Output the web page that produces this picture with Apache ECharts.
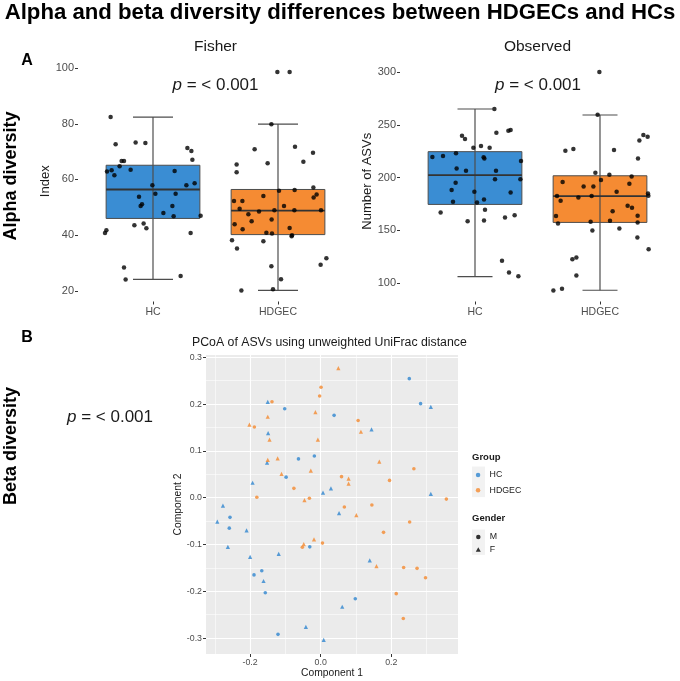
<!DOCTYPE html>
<html><head><meta charset="utf-8">
<script src="https://cdn.jsdelivr.net/npm/echarts@6/dist/echarts.min.js"></script>
<style>html,body{margin:0;padding:0;background:#fff}#c{width:680px;height:681px}</style>
</head><body><div id="c"></div>
<script>
// ---------- data ----------
const groups = ['HC', 'HDGEC'];
// [lower whisker, Q1, median, Q3, upper whisker]
const fisherStats = [[24.1, 46.0, 56.4, 65.1, 82.4], [20.2, 40.2, 48.8, 56.4, 79.9]];
const observedStats = [[106, 174.5, 202.4, 224.6, 265.1], [93, 157.4, 182.4, 201.7, 259.4]];
const fisherTicks = [20, 40, 60, 80, 100];
const observedTicks = [100, 150, 200, 250, 300];
// jittered points [x position (1 = HC, 2 = HDGEC), value]
const fisherHC = [[0.661,82.4],[0.701,72.6],[0.749,66.6],[0.768,66.6],[0.733,64.7],[0.669,63.3],[0.632,62.9],[0.691,61.5],[0.821,63.5],[0.861,73.3],[0.939,73.1],[1.173,63.05],[0.995,57.9],[1.019,54.9],[0.888,53.8],[0.912,51.1],[0.901,50.5],[1.181,54.9],[1.083,48.0],[1.155,50.5],[1.165,46.8],[1.275,71.3],[1.307,70.2],[1.315,67.1],[1.267,57.9],[1.333,58.6],[1.381,47.0],[0.851,43.6],[0.925,44.2],[0.947,42.5],[0.627,41.8],[0.616,40.8],[1.301,40.8],[0.768,28.4],[0.781,24.1],[1.221,25.3]];
const fisherHDGEC = [[1.995,98.6],[2.093,98.6],[1.947,79.8],[1.813,70.8],[2.136,71.7],[1.917,65.8],[1.669,65.4],[1.669,62.6],[2.203,66.4],[2.280,69.6],[1.648,52.3],[1.715,52.3],[1.693,49.5],[1.763,47.5],[1.789,45.0],[1.848,48.5],[1.883,54.1],[2.008,55.9],[2.048,50.5],[1.971,48.9],[1.949,45.6],[2.131,48.9],[2.133,56.2],[2.283,57.1],[2.309,54.6],[2.285,53.5],[2.344,48.9],[1.653,43.9],[1.717,42.1],[2.093,42.6],[2.112,40.0],[2.109,39.6],[1.907,40.9],[1.952,40.6],[1.883,37.8],[1.632,38.2],[1.672,35.2],[2.341,29.4],[2.387,31.7],[1.947,28.8],[2.024,24.2],[1.707,20.1],[1.960,20.6]];
const observedHC = [[1.155,265.1],[0.896,239.8],[0.920,236.7],[1.171,242.6],[1.267,244.5],[1.285,245.2],[0.987,228.4],[1.048,230.0],[1.117,228.4],[0.659,219.5],[0.744,220.4],[0.848,223.0],[1.069,219.2],[1.075,218.2],[0.853,208.7],[0.928,206.5],[1.168,206.5],[1.160,198.3],[0.845,195.1],[1.363,198.3],[0.813,188.1],[0.995,186.5],[0.824,177.0],[1.016,176.4],[1.285,185.9],[1.368,215.7],[1.072,179.2],[1.080,169.4],[0.725,166.9],[0.941,158.6],[1.072,159.3],[1.240,162.1],[1.317,164.3],[1.216,120.9],[1.272,109.8],[1.347,106.3]];
const observedHDGEC = [[1.995,300.3],[1.981,259.7],[1.723,225.5],[1.787,227.1],[2.112,226.1],[2.347,240.4],[2.381,238.8],[2.315,235.3],[2.304,218.2],[1.701,195.7],[1.869,191.6],[1.947,191.6],[1.963,204.6],[2.008,197.6],[2.075,202.7],[2.253,201.1],[2.235,194.1],[1.656,182.4],[1.685,178.0],[1.827,181.1],[1.933,182.4],[2.133,186.5],[2.384,184.9],[2.387,182.7],[2.221,173.2],[2.256,171.3],[2.101,168.1],[1.648,163.4],[1.664,156.4],[1.925,158.0],[1.939,149.8],[2.080,158.9],[2.155,151.7],[2.301,163.7],[2.301,157.4],[2.299,143.1],[2.389,132.0],[1.779,122.5],[1.811,124.1],[1.811,107.0],[1.627,92.7],[1.696,94.3]];
// PCoA [Component 1, Component 2]
const pcoaHC_M = [[-0.102,0.190],[0.038,0.176],[-0.018,0.089],[-0.063,0.083],[-0.098,0.044],[0.251,0.2545],[0.283,0.201],[-0.257,-0.042],[-0.259,-0.065],[-0.031,-0.105],[-0.167,-0.156],[-0.189,-0.165],[-0.157,-0.203],[-0.121,-0.292],[0.098,-0.216]];
const pcoaHC_F = [[-0.150,0.205],[-0.149,0.138],[-0.152,0.075],[-0.193,0.032],[0.029,0.020],[0.0065,0.011],[0.312,0.194],[0.144,0.146],[0.312,0.008],[-0.277,-0.017],[0.052,-0.033],[-0.293,-0.051],[-0.210,-0.070],[-0.263,-0.105],[-0.119,-0.120],[-0.200,-0.1265],[-0.162,-0.178],[0.061,-0.233],[-0.042,-0.276],[0.0085,-0.304],[0.139,-0.134]];
const pcoaHDGEC_M = [[0.001,0.236],[-0.003,0.2175],[-0.138,0.205],[-0.188,0.151],[0.059,0.045],[-0.076,0.020],[-0.181,0.001],[-0.032,-0.001],[0.067,-0.020],[0.005,-0.097],[-0.052,-0.106],[0.106,0.165],[0.264,0.062],[0.195,0.037],[0.356,-0.003],[0.145,-0.0155],[0.252,-0.052],[0.178,-0.074],[0.235,-0.149],[0.273,-0.151],[0.297,-0.171],[0.214,-0.205],[0.234,-0.258]];
const pcoaHDGEC_F = [[0.050,0.277],[-0.150,0.173],[-0.015,0.183],[-0.202,0.156],[-0.145,0.124],[-0.008,0.124],[-0.122,0.084],[-0.150,0.081],[-0.111,0.051],[-0.028,0.058],[0.114,0.141],[0.166,0.077],[0.079,0.041],[0.079,0.030],[-0.046,-0.005],[-0.019,-0.089],[-0.048,-0.099],[0.101,-0.037],[0.158,-0.146]];
const pcoaXTicks = [-0.2, 0, 0.2];
const pcoaXMinor = [-0.3, -0.1, 0.1, 0.3];
const pcoaYTicks = [-0.3, -0.2, -0.1, 0, 0.1, 0.2, 0.3];
const pcoaYMinor = [-0.25, -0.15, -0.05, 0.05, 0.15, 0.25];

// ---------- styling ----------
const FONT = '"Liberation Sans", Arial, sans-serif';
const BLUE = '#3a8dd3', ORANGE = '#f58b33';
const PBLUE = '#2f86cf', PORANGE = '#f4892f';
const boxColors = [BLUE, ORANGE];

function boxRenderer(capHalf) {
  return function (params, api) {
    const x = api.value(0), lo = api.value(1), q1 = api.value(2), md = api.value(3), q3 = api.value(4), hi = api.value(5);
    const tl = api.coord([x - 0.375, q3]), br = api.coord([x + 0.375, q1]);
    const top = api.coord([x, hi]), bot = api.coord([x, lo]);
    const m1 = api.coord([x - 0.375, md]), m2 = api.coord([x + 0.375, md]);
    const c1 = api.coord([x - capHalf, hi]), c2 = api.coord([x + capHalf, hi]);
    const d1 = api.coord([x - capHalf, lo]), d2 = api.coord([x + capHalf, lo]);
    const stroke = '#4d4d4d';
    return { type: 'group', children: [
      { type: 'rect', shape: { x: tl[0], y: tl[1], width: br[0] - tl[0], height: br[1] - tl[1] }, style: { fill: boxColors[params.dataIndex], stroke: stroke, lineWidth: 1 } },
      { type: 'line', shape: { x1: top[0], y1: top[1], x2: bot[0], y2: bot[1] }, style: { stroke: stroke, lineWidth: 1.2 } },
      { type: 'line', shape: { x1: c1[0], y1: c1[1], x2: c2[0], y2: c2[1] }, style: { stroke: stroke, lineWidth: 1.2 } },
      { type: 'line', shape: { x1: d1[0], y1: d1[1], x2: d2[0], y2: d2[1] }, style: { stroke: stroke, lineWidth: 1.2 } },
      { type: 'line', shape: { x1: m1[0], y1: m1[1], x2: m2[0], y2: m2[1] }, style: { stroke: '#333', lineWidth: 1.8 } }
    ] };
  };
}

function catXAxis(gridIndex) {
  return {
    type: 'value', gridIndex: gridIndex, min: 0.4, max: 2.6,
    axisLine: { show: false, onZero: false }, splitLine: { show: false },
    axisTick: { show: true, length: 3, lineStyle: { color: '#333' }, customValues: [1, 2] },
    axisLabel: { customValues: [1, 2], formatter: v => groups[Math.round(v) - 1], color: '#4d4d4d', fontSize: 10.5, fontFamily: FONT, margin: 5 }
  };
}
function valYAxis(gridIndex, min, max, ticks, name, gap) {
  return {
    type: 'value', gridIndex: gridIndex, min: min, max: max,
    name: name, nameLocation: 'middle', nameGap: gap, nameTextStyle: { fontSize: 13, color: '#1a1a1a', fontFamily: FONT },
    axisLine: { show: false, onZero: false }, splitLine: { show: false },
    axisTick: { show: true, length: 3, lineStyle: { color: '#333' }, customValues: ticks },
    axisLabel: { customValues: ticks, color: '#4d4d4d', fontSize: 11, fontFamily: FONT, margin: 4 }
  };
}

// white panel grid lines for the PCoA panel, placed through the axes as mark lines
const gridLineData = []
  .concat(pcoaXTicks.map(v => ({ xAxis: v, lineStyle: { width: 1.1 } })))
  .concat(pcoaXMinor.map(v => ({ xAxis: v, lineStyle: { width: 0.55 } })))
  .concat(pcoaYTicks.map(v => ({ yAxis: v, lineStyle: { width: 1.1 } })))
  .concat(pcoaYMinor.map(v => ({ yAxis: v, lineStyle: { width: 0.55 } })));

const pText = (x, y) => ({ type: 'text', x: x, y: y, style: { text: '{i|p} = < 0.001', font: '17px ' + FONT, fill: '#1a1a1a', align: 'center', verticalAlign: 'middle', rich: { i: { fontStyle: 'italic', fontSize: 17, fontFamily: FONT, fill: '#1a1a1a' } } } });

const option = {
  animation: false,
  backgroundColor: '#ffffff',
  grid: [
    { left: 78, top: 61, width: 275, height: 240.5, containLabel: false },
    { left: 400, top: 61, width: 275, height: 240.5, containLabel: false },
    { left: 206, top: 355, width: 252, height: 299, containLabel: false, show: true, backgroundColor: '#ebebeb', borderWidth: 0 }
  ],
  xAxis: [
    catXAxis(0),
    catXAxis(1),
    { type: 'value', gridIndex: 2, position: 'bottom', min: -0.325, max: 0.389,
      name: 'Component 1', nameLocation: 'middle', nameGap: 14, nameTextStyle: { fontSize: 10.3, color: '#1a1a1a', fontFamily: FONT },
      axisLine: { show: false, onZero: false },
      axisTick: { show: true, length: 3, lineStyle: { color: '#333' }, customValues: pcoaXTicks },
      axisLabel: { customValues: pcoaXTicks, formatter: v => v.toFixed(1), color: '#4d4d4d', fontSize: 8.8, fontFamily: FONT, margin: 4 },
      splitLine: { show: false } }
  ],
  yAxis: [
    valYAxis(0, 16.18, 102.53, fisherTicks, 'Index', 24),
    valYAxis(1, 82.3, 310.7, observedTicks, 'Number of ASVs', 25),
    { type: 'value', gridIndex: 2, position: 'left', min: -0.334, max: 0.305,
      name: 'Component 2', nameLocation: 'middle', nameGap: 20, nameTextStyle: { fontSize: 10.3, color: '#1a1a1a', fontFamily: FONT },
      axisLine: { show: false, onZero: false },
      axisTick: { show: true, length: 3, lineStyle: { color: '#333' }, customValues: pcoaYTicks },
      axisLabel: { customValues: pcoaYTicks, formatter: v => v.toFixed(1), color: '#4d4d4d', fontSize: 8.8, fontFamily: FONT, margin: 4 },
      splitLine: { show: false } }
  ],
  legend: [
    { orient: 'vertical', left: 475.8, top: 469.5, padding: 0, itemWidth: 5, itemHeight: 4.5, itemGap: 4.3, selectedMode: false,
      data: [{ name: 'HC', icon: 'circle' }, { name: 'HDGEC', icon: 'circle' }],
      textStyle: { fontSize: 8.8, color: '#1a1a1a', fontFamily: FONT, lineHeight: 11, padding: [0, 0, 0, 4] } },
    { orient: 'vertical', left: 475.8, top: 531.5, padding: 0, itemWidth: 5, itemHeight: 4.5, itemGap: 1.6, selectedMode: false,
      data: [{ name: 'M', icon: 'circle' }, { name: 'F', icon: 'triangle' }],
      textStyle: { fontSize: 8.8, color: '#1a1a1a', fontFamily: FONT, lineHeight: 11, padding: [0, 0, 0, 4] } }
  ],
  graphic: [
    { type: 'rect', left: 472, top: 466.5, shape: { width: 13, height: 30.6 }, style: { fill: '#f2f2f2' }, z: -1 },
    { type: 'rect', left: 472, top: 529.5, shape: { width: 13, height: 25.4 }, style: { fill: '#f2f2f2' }, z: -1 },
    { type: 'text', x: 340, y: 13, style: { text: 'Alpha and beta diversity differences between HDGECs and HCs', font: 'bold 22.2px ' + FONT, fill: '#000', align: 'center', verticalAlign: 'middle' } },
    { type: 'text', x: 27, y: 61, style: { text: 'A', font: 'bold 16px ' + FONT, fill: '#000', align: 'center', verticalAlign: 'middle' } },
    { type: 'text', x: 27, y: 338, style: { text: 'B', font: 'bold 16px ' + FONT, fill: '#000', align: 'center', verticalAlign: 'middle' } },
    { type: 'text', x: 11, y: 176, rotation: Math.PI / 2, style: { text: 'Alpha diversity', font: 'bold 18px ' + FONT, fill: '#000', align: 'center', verticalAlign: 'middle' } },
    { type: 'text', x: 11, y: 446, rotation: Math.PI / 2, style: { text: 'Beta diversity', font: 'bold 18px ' + FONT, fill: '#000', align: 'center', verticalAlign: 'middle' } },
    { type: 'text', x: 215.5, y: 47, style: { text: 'Fisher', font: '15.5px ' + FONT, fill: '#1a1a1a', align: 'center', verticalAlign: 'middle' } },
    { type: 'text', x: 537.5, y: 47, style: { text: 'Observed', font: '15.5px ' + FONT, fill: '#1a1a1a', align: 'center', verticalAlign: 'middle' } },
    pText(215.5, 85), pText(538, 85), pText(110, 417),
    { type: 'text', x: 192, y: 343, style: { text: 'PCoA of ASVs using unweighted UniFrac distance', font: '12.3px ' + FONT, fill: '#1a1a1a', align: 'left', verticalAlign: 'middle' } },
    { type: 'text', x: 472, y: 457, style: { text: 'Group', font: 'bold 9.5px ' + FONT, fill: '#1a1a1a', align: 'left', verticalAlign: 'middle' } },
    { type: 'text', x: 472, y: 518, style: { text: 'Gender', font: 'bold 9.5px ' + FONT, fill: '#1a1a1a', align: 'left', verticalAlign: 'middle' } }
  ],
  series: [
    { type: 'custom', name: 'Fisher box', xAxisIndex: 0, yAxisIndex: 0, renderItem: boxRenderer(0.16), encode: { x: 0, y: [1, 2, 3, 4, 5] },
      data: groups.map((g, i) => [i + 1].concat(fisherStats[i])), z: 2 },
    { type: 'scatter', name: 'Fisher HC', xAxisIndex: 0, yAxisIndex: 0, data: fisherHC, symbolSize: 4.5, itemStyle: { color: '#000' }, z: 5 },
    { type: 'scatter', name: 'Fisher HDGEC', xAxisIndex: 0, yAxisIndex: 0, data: fisherHDGEC, symbolSize: 4.5, itemStyle: { color: '#000' }, z: 5 },
    { type: 'custom', name: 'Observed box', xAxisIndex: 1, yAxisIndex: 1, renderItem: boxRenderer(0.14), encode: { x: 0, y: [1, 2, 3, 4, 5] },
      data: groups.map((g, i) => [i + 1].concat(observedStats[i])), z: 2 },
    { type: 'scatter', name: 'Observed HC', xAxisIndex: 1, yAxisIndex: 1, data: observedHC, symbolSize: 4.5, itemStyle: { color: '#000' }, z: 5 },
    { type: 'scatter', name: 'Observed HDGEC', xAxisIndex: 1, yAxisIndex: 1, data: observedHDGEC, symbolSize: 4.5, itemStyle: { color: '#000' }, z: 5 },
    { type: 'scatter', name: 'panel grid', xAxisIndex: 2, yAxisIndex: 2, data: [], z: 1, silent: true,
      markLine: { z: 1, silent: true, symbol: 'none', animation: false, label: { show: false }, emphasis: { disabled: true },
        lineStyle: { color: '#ffffff', type: 'solid', width: 1.1 }, data: gridLineData } },
    { type: 'scatter', name: 'HC', xAxisIndex: 2, yAxisIndex: 2, data: pcoaHC_M, symbol: 'circle', symbolSize: 3.6, itemStyle: { color: PBLUE }, z: 6 },
    { type: 'scatter', name: 'HC', xAxisIndex: 2, yAxisIndex: 2, data: pcoaHC_F, symbol: 'triangle', symbolSize: 4.2, itemStyle: { color: PBLUE }, z: 6 },
    { type: 'scatter', name: 'HDGEC', xAxisIndex: 2, yAxisIndex: 2, data: pcoaHDGEC_M, symbol: 'circle', symbolSize: 3.6, itemStyle: { color: PORANGE }, z: 6 },
    { type: 'scatter', name: 'HDGEC', xAxisIndex: 2, yAxisIndex: 2, data: pcoaHDGEC_F, symbol: 'triangle', symbolSize: 4.2, itemStyle: { color: PORANGE }, z: 6 },
    { type: 'scatter', name: 'M', xAxisIndex: 2, yAxisIndex: 2, data: [], symbol: 'circle', itemStyle: { color: '#000' } },
    { type: 'scatter', name: 'F', xAxisIndex: 2, yAxisIndex: 2, data: [], symbol: 'triangle', itemStyle: { color: '#000' } }
  ]
};
const chart = echarts.init(document.getElementById('c'), null, { renderer: 'canvas' });
chart.setOption(option);
</script></body></html>
